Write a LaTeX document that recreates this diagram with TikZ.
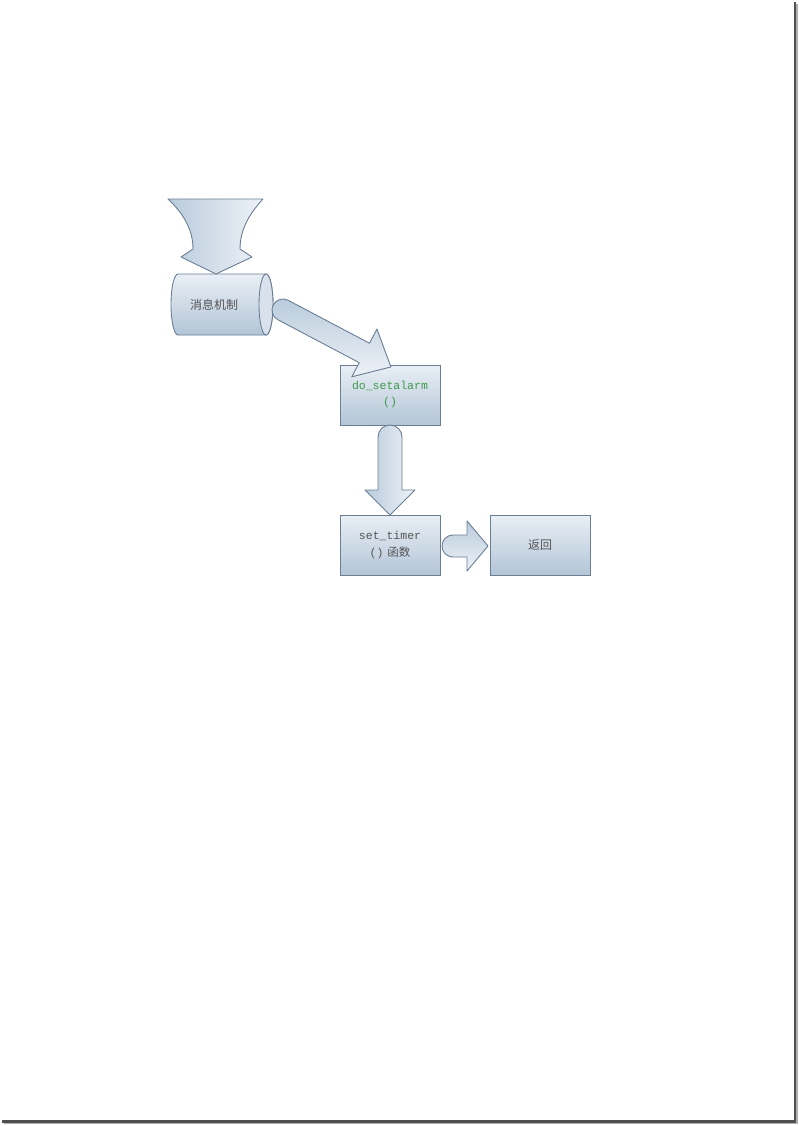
\documentclass[tikz,border=0pt]{standalone}
\usepackage{fontspec}
\newfontfamily\cjk{Noto Sans CJK SC}
\newfontfamily\mono{Liberation Mono}
\definecolor{edge}{HTML}{6A7E94}
\definecolor{ftop}{HTML}{E9EFF5}
\definecolor{fbot}{HTML}{B3C5D7}
\definecolor{ablue}{HTML}{B9CBDC}
\definecolor{alight}{HTML}{EEF2F7}
\definecolor{txtgray}{HTML}{555555}
\definecolor{txtgreen}{HTML}{3E9A4E}
\definecolor{shadowgray}{HTML}{505050}
\tikzset{
  box/.style={draw=edge, line width=0.9pt, top color=ftop, bottom color=fbot,
    minimum width=100pt, minimum height=60pt, inner sep=0pt, align=center},
  blockarrow/.style={draw=edge, line width=0.9pt, line join=round},
  cjktext/.style={font=\cjk\fontsize{12}{14}\selectfont, text=txtgray},
}
\begin{document}
\begin{tikzpicture}[x=1pt,y=-1pt]
\useasboundingbox (0,0) rectangle (798,1126);
\fill[white] (0,0) rectangle (798,1126);
% page shadow
\draw[shadowgray!45, line width=1.5pt] (4,1123.5) -- (797,1123.5) -- (797,4);
\draw[shadowgray, line width=2.2pt] (2,1121.5) -- (795,1121.5) -- (795,2);

% boxes
\node[box] (alarm) at (390,395) {};
\node[font=\mono\fontsize{11.5}{16}\selectfont, text=txtgreen, align=center] (alarmtxt) at (390,395) {do\_setalarm\\()};
\node[box, font=\fontsize{11.5}{17}\selectfont, text=txtgray] (timer) at (390,545) {{\mono set\_timer}\\{\mono()} {\cjk 函数}};
\node[box, cjktext] (ret) at (540,545) {返回};

% cylinder
\path[draw=edge, line width=0.9pt, top color=ftop, bottom color=fbot]
  (178,274) -- (266,274)
  .. controls (269.87,274) and (273,287.65) .. (273,304.5)
  .. controls (273,321.35) and (269.87,335) .. (266,335)
  -- (178,335)
  .. controls (174.13,335) and (171,321.35) .. (171,304.5)
  .. controls (171,287.65) and (174.13,274) .. (178,274) -- cycle;
\path[draw=edge, line width=0.9pt, fill=ftop!70!fbot]
  (266,274) .. controls (262.13,274) and (259,287.65) .. (259,304.5)
  .. controls (259,321.35) and (262.13,335) .. (266,335)
  .. controls (269.87,335) and (273,321.35) .. (273,304.5)
  .. controls (273,287.65) and (269.87,274) .. (266,274) -- cycle;
\node[cjktext] (msg) at (214,305) {消息机制};

% funnel arrow into the cylinder
\path[blockarrow, left color=ablue, right color=alight]
  (168,199) -- (263,199)
  .. controls (249,214) and (240,230) .. (240,249)
  -- (252,257) -- (216,274) -- (181,257) -- (193,249)
  .. controls (193,230) and (184,214) .. (168,199) -- cycle;

% diagonal arrow: cylinder -> do_setalarm
\begin{scope}[shift={(283,310)}, rotate=-27.83]
\path[blockarrow, top color=ablue, bottom color=alight]
  (0,-11) -- (92,-11) -- (92,-27) -- (122,0) -- (92,27) -- (92,11) -- (0,11)
  arc[start angle=90, end angle=270, radius=11] -- cycle;
\end{scope}

% down arrow: do_setalarm -> set_timer
\begin{scope}[shift={(390,437)}, rotate=-90]
\path[blockarrow, left color=ablue, right color=alight]
  (0,-12) -- (53,-12) -- (53,-25) -- (78,0) -- (53,25) -- (53,12) -- (0,12)
  arc[start angle=90, end angle=270, radius=12] -- cycle;
\end{scope}

% right arrow: set_timer -> return
\begin{scope}[shift={(453,546)}]
\path[blockarrow, top color=ablue, bottom color=alight]
  (0,-11) -- (14,-11) -- (14,-25) -- (35,0) -- (14,25) -- (14,11) -- (0,11)
  arc[start angle=90, end angle=270, radius=11] -- cycle;
\end{scope}
\end{tikzpicture}
\end{document}
